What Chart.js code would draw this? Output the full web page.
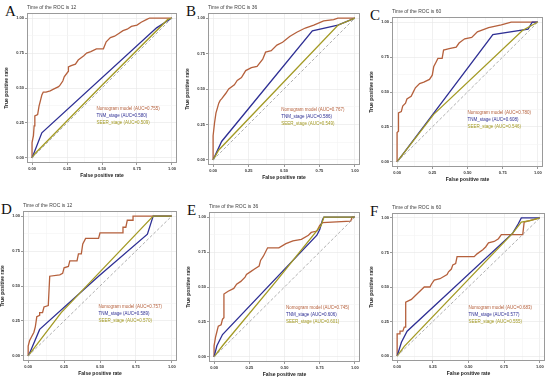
<!DOCTYPE html>
<html>
<head>
<meta charset="utf-8">
<script src="https://cdn.jsdelivr.net/npm/chart.js@4.4.1/dist/chart.umd.min.js"></script>
<style>
body{margin:0;background:#fff;width:550px;height:381px;position:relative;overflow:hidden;font-family:"Liberation Sans",Arial,sans-serif}
.panel-letter{position:absolute;font-family:"Liberation Serif",serif;font-size:15px;line-height:1;color:#111}
canvas{position:absolute}
</style>
</head>
<body>
<script>
// panel labels and roc times
const panelLetters = ['A', 'B', 'C', 'D', 'E', 'F'];
const rocTimes = [12, 36, 60, 12, 36, 60];
const aucNomogram = ['0.755', '0.767', '0.780', '0.757', '0.745', '0.683'];
const aucTnm = ['0.580', '0.586', '0.608', '0.589', '0.606', '0.577'];
const aucSeer = ['0.509', '0.549', '0.546', '0.570', '0.601', '0.555'];
const axisTicks = [0, 0.25, 0.5, 0.75, 1];

// [false positive rate, true positive rate]
const nomoA = [[0,0],[0,0.11],[0.01,0.16],[0.015,0.23],[0.02,0.30],[0.04,0.31],[0.05,0.37],[0.06,0.41],[0.07,0.45],[0.08,0.47],[0.10,0.47],[0.13,0.48],[0.15,0.49],[0.19,0.51],[0.20,0.52],[0.22,0.55],[0.23,0.58],[0.26,0.62],[0.26,0.65],[0.28,0.66],[0.31,0.67],[0.33,0.70],[0.37,0.73],[0.39,0.75],[0.42,0.76],[0.46,0.78],[0.51,0.78],[0.53,0.83],[0.56,0.86],[0.59,0.87],[0.62,0.89],[0.65,0.91],[0.68,0.92],[0.71,0.94],[0.75,0.95],[0.78,0.97],[0.82,0.99],[0.84,1],[1,1]];
const tnmA = [[0,0],[0.07,0.18],[0.89,0.93],[1,1]];
const seerA = [[0,0],[0.02,0.03],[0.5,0.52],[0.97,0.99],[1,1]];

const nomoB = [[0,0],[0,0.17],[0.01,0.26],[0.02,0.33],[0.04,0.40],[0.05,0.42],[0.06,0.43],[0.09,0.47],[0.11,0.50],[0.15,0.53],[0.17,0.56],[0.20,0.58],[0.23,0.63],[0.27,0.65],[0.31,0.66],[0.35,0.71],[0.37,0.76],[0.41,0.77],[0.45,0.81],[0.49,0.83],[0.54,0.87],[0.59,0.90],[0.65,0.93],[0.71,0.95],[0.78,0.98],[0.85,0.99],[0.88,1],[1,1]];
const tnmB = [[0,0],[0.06,0.13],[0.70,0.91],[0.88,0.95],[1,1]];
const seerB = [[0,0],[0.04,0.07],[0.88,0.95],[1,1]];

const nomoC = [[0,0],[0,0.21],[0.01,0.22],[0.01,0.35],[0.03,0.36],[0.04,0.40],[0.06,0.42],[0.07,0.45],[0.10,0.47],[0.12,0.51],[0.13,0.53],[0.16,0.56],[0.19,0.57],[0.23,0.59],[0.25,0.62],[0.26,0.68],[0.28,0.72],[0.29,0.74],[0.32,0.74],[0.33,0.80],[0.37,0.81],[0.42,0.82],[0.44,0.85],[0.48,0.88],[0.53,0.89],[0.57,0.93],[0.65,0.96],[0.74,0.98],[0.81,1],[1,1]];
const tnmC = [[0,0],[0.68,0.91],[0.93,0.95],[0.96,1],[1,1]];
const seerC = [[0,0],[0.26,0.34],[0.89,0.94],[1,1]];

const nomoD = [[0,0],[0,0.07],[0.01,0.11],[0.02,0.13],[0.04,0.17],[0.05,0.21],[0.06,0.28],[0.08,0.29],[0.08,0.31],[0.10,0.31],[0.11,0.35],[0.14,0.36],[0.15,0.57],[0.22,0.58],[0.24,0.59],[0.25,0.63],[0.28,0.64],[0.29,0.68],[0.34,0.68],[0.35,0.73],[0.37,0.73],[0.38,0.80],[0.40,0.84],[0.49,0.84],[0.50,0.88],[0.66,0.88],[0.66,0.92],[0.68,0.92],[0.69,0.97],[0.73,0.97],[0.73,1],[1,1]];
const tnmD = [[0,0],[0.01,0.02],[0.08,0.19],[0.49,0.57],[0.83,0.87],[0.87,1],[1,1]];
const seerD = [[0,0],[0.23,0.31],[0.49,0.59],[0.87,1],[1,1]];

const nomoE = [[0,0],[0,0.08],[0.01,0.14],[0.02,0.18],[0.03,0.22],[0.05,0.23],[0.06,0.27],[0.07,0.28],[0.07,0.45],[0.10,0.47],[0.14,0.49],[0.16,0.52],[0.19,0.54],[0.22,0.57],[0.23,0.59],[0.26,0.61],[0.29,0.63],[0.32,0.65],[0.33,0.69],[0.35,0.72],[0.38,0.78],[0.46,0.78],[0.51,0.81],[0.56,0.83],[0.62,0.84],[0.67,0.87],[0.69,0.89],[0.73,0.90],[0.75,0.94],[0.77,0.96],[0.97,0.97],[0.98,1],[1,1]];
const tnmE = [[0,0],[0.02,0.08],[0.06,0.16],[0.73,0.87],[0.75,0.91],[0.77,0.98],[0.78,1],[1,1]];
const seerE = [[0,0],[0.06,0.08],[0.44,0.54],[0.76,0.94],[0.78,1],[1,1]];

const nomoF = [[0,0],[0,0.16],[0.02,0.16],[0.02,0.18],[0.04,0.18],[0.05,0.21],[0.06,0.21],[0.06,0.39],[0.10,0.41],[0.13,0.44],[0.17,0.48],[0.19,0.50],[0.23,0.50],[0.24,0.52],[0.26,0.55],[0.30,0.56],[0.35,0.59],[0.36,0.61],[0.38,0.63],[0.39,0.66],[0.41,0.67],[0.42,0.72],[0.54,0.72],[0.56,0.74],[0.60,0.77],[0.62,0.79],[0.64,0.82],[0.68,0.83],[0.71,0.85],[0.73,0.88],[0.88,0.88],[0.89,0.97],[0.93,0.98],[1,1]];
const tnmF = [[0,0],[0.03,0.10],[0.07,0.18],[0.81,0.89],[0.85,0.96],[0.87,1],[1,1]];
const seerF = [[0,0],[0.05,0.07],[0.81,0.89],[0.87,0.97],[0.93,0.98],[1,1]];

const nomoCurves = [nomoA, nomoB, nomoC, nomoD, nomoE, nomoF];
const tnmCurves = [tnmA, tnmB, tnmC, tnmD, tnmE, tnmF];
const seerCurves = [seerA, seerB, seerC, seerD, seerE, seerF];

// plot boxes in page pixels: left, top, right, bottom
const boxes = [[27,13,177,163],[208,13,360,165],[392,17,543,167],[23,211,177,361],[209,212,360,362],[392,213,545,361]];
const legendPos = [[0.46,0.355],[0.48,0.357],[0.50,0.35],[0.49,0.35],[0.51,0.35],[0.50,0.35]];

const nomoColor = '#b5603c';
const tnmColor = '#2e2f94';
const seerColor = '#a39a24';

const AXIS_W = 24, AXIS_H = 16, TOP_H = 9, PAD_R = 2;

const boxPlugin = {
    id: 'boxPlugin',
    beforeDraw(chart) {
        const a = chart.chartArea;
        chart.ctx.save();
        chart.ctx.fillStyle = '#fff';
        chart.ctx.fillRect(a.left, a.top, a.width, a.height);
        chart.ctx.restore();
    },
    afterDraw(chart) {
        const a = chart.chartArea;
        const ctx = chart.ctx;
        ctx.save();
        ctx.strokeStyle = '#9a9a9a';
        ctx.lineWidth = 1;
        ctx.strokeRect(Math.round(a.left) + 0.5, Math.round(a.top) + 0.5, Math.round(a.width) - 1, Math.round(a.height) - 1);
        ctx.restore();
    }
};

const textLegend = {
    id: 'textLegend',
    afterDatasetsDraw(chart, args, opts) {
        const ctx = chart.ctx;
        const x = chart.scales.x.getPixelForValue(opts.x);
        const y = chart.scales.y.getPixelForValue(opts.y);
        ctx.save();
        ctx.font = '4.5px "Liberation Sans", Arial, sans-serif';
        ctx.textBaseline = 'middle';
        opts.items.forEach((it, i) => {
            ctx.fillStyle = it.color;
            ctx.fillText(it.text, x, y + i * 7);
        });
        ctx.restore();
    }
};

const toXY = pts => pts.map(p => ({x: p[0], y: p[1]}));

function axisOptions(title, isX) {
    return {
        type: 'linear',
        min: -0.036,
        max: 1.036,
        afterBuildTicks: s => { s.ticks = [0,0.125,0.25,0.375,0.5,0.625,0.75,0.875,1].map(v => ({value: v})); },
        afterFit: s => { if (isX) s.height = AXIS_H; else s.width = AXIS_W; },
        border: {display: false},
        grid: {
            color: c => axisTicks.includes(c.tick.value) ? '#e6e6e6' : '#f3f3f3',
            lineWidth: 0.6,
            tickLength: 2,
            tickColor: c => axisTicks.includes(c.tick.value) ? '#555' : 'rgba(0,0,0,0)'
        },
        ticks: {
            autoSkip: false,
            maxRotation: 0,
            padding: 1,
            color: '#333',
            font: {size: 4, weight: 'bold', family: '"Liberation Sans", Arial, sans-serif'},
            callback: v => axisTicks.includes(v) ? v.toFixed(2) : ''
        },
        title: {
            display: true,
            text: title,
            color: '#222',
            padding: {top: 1, bottom: 0},
            font: {size: 5, weight: 'bold', family: '"Liberation Sans", Arial, sans-serif'}
        }
    };
}

panelLetters.forEach((letter, i) => {
    const [L, T, R, B] = boxes[i];

    const lab = document.createElement('div');
    lab.className = 'panel-letter';
    lab.textContent = letter;
    lab.style.left = (L - 22) + 'px';
    lab.style.top = (T - 9) + 'px';
    document.body.appendChild(lab);

    const cv = document.createElement('canvas');
    cv.width = (R - L) + AXIS_W + PAD_R;
    cv.height = (B - T) + TOP_H + AXIS_H;
    cv.style.left = (L - AXIS_W) + 'px';
    cv.style.top = (T - TOP_H) + 'px';
    document.body.appendChild(cv);

    new Chart(cv, {
        type: 'scatter',
        data: {
            datasets: [
                {label: 'ref', data: toXY([[0,0],[1,1]]), showLine: true, borderColor: '#9b9b9b', borderWidth: 0.8, borderDash: [3,2], pointRadius: 0},
                {label: 'SEER_stage', data: toXY(seerCurves[i]), showLine: true, borderColor: seerColor, borderWidth: 1.3, pointRadius: 0},
                {label: 'TNM_stage', data: toXY(tnmCurves[i]), showLine: true, borderColor: tnmColor, borderWidth: 1.3, pointRadius: 0},
                {label: 'Nomogram model', data: toXY(nomoCurves[i]), showLine: true, borderColor: nomoColor, borderWidth: 1.3, pointRadius: 0}
            ]
        },
        options: {
            responsive: false,
            animation: false,
            devicePixelRatio: 1,
            layout: {padding: {top: 1, right: PAD_R, left: 0, bottom: 0}},
            scales: {
                x: axisOptions('False positive rate', true),
                y: axisOptions('True positive rate', false)
            },
            plugins: {
                legend: {display: false},
                tooltip: {enabled: false},
                title: {
                    display: true,
                    text: 'Time of the ROC is ' + rocTimes[i],
                    align: 'start',
                    fullSize: false,
                    color: '#444',
                    padding: {top: 0, bottom: 2},
                    font: {size: 5, weight: 'normal', lineHeight: 1.2, family: '"Liberation Sans", Arial, sans-serif'}
                },
                textLegend: {
                    x: legendPos[i][0],
                    y: legendPos[i][1],
                    items: [
                        {text: 'Nomogram model (AUC=' + aucNomogram[i] + ')', color: nomoColor},
                        {text: 'TNM_stage (AUC=' + aucTnm[i] + ')', color: tnmColor},
                        {text: 'SEER_stage (AUC=' + aucSeer[i] + ')', color: seerColor}
                    ]
                }
            }
        },
        plugins: [boxPlugin, textLegend]
    });
});
</script>
</body>
</html>
